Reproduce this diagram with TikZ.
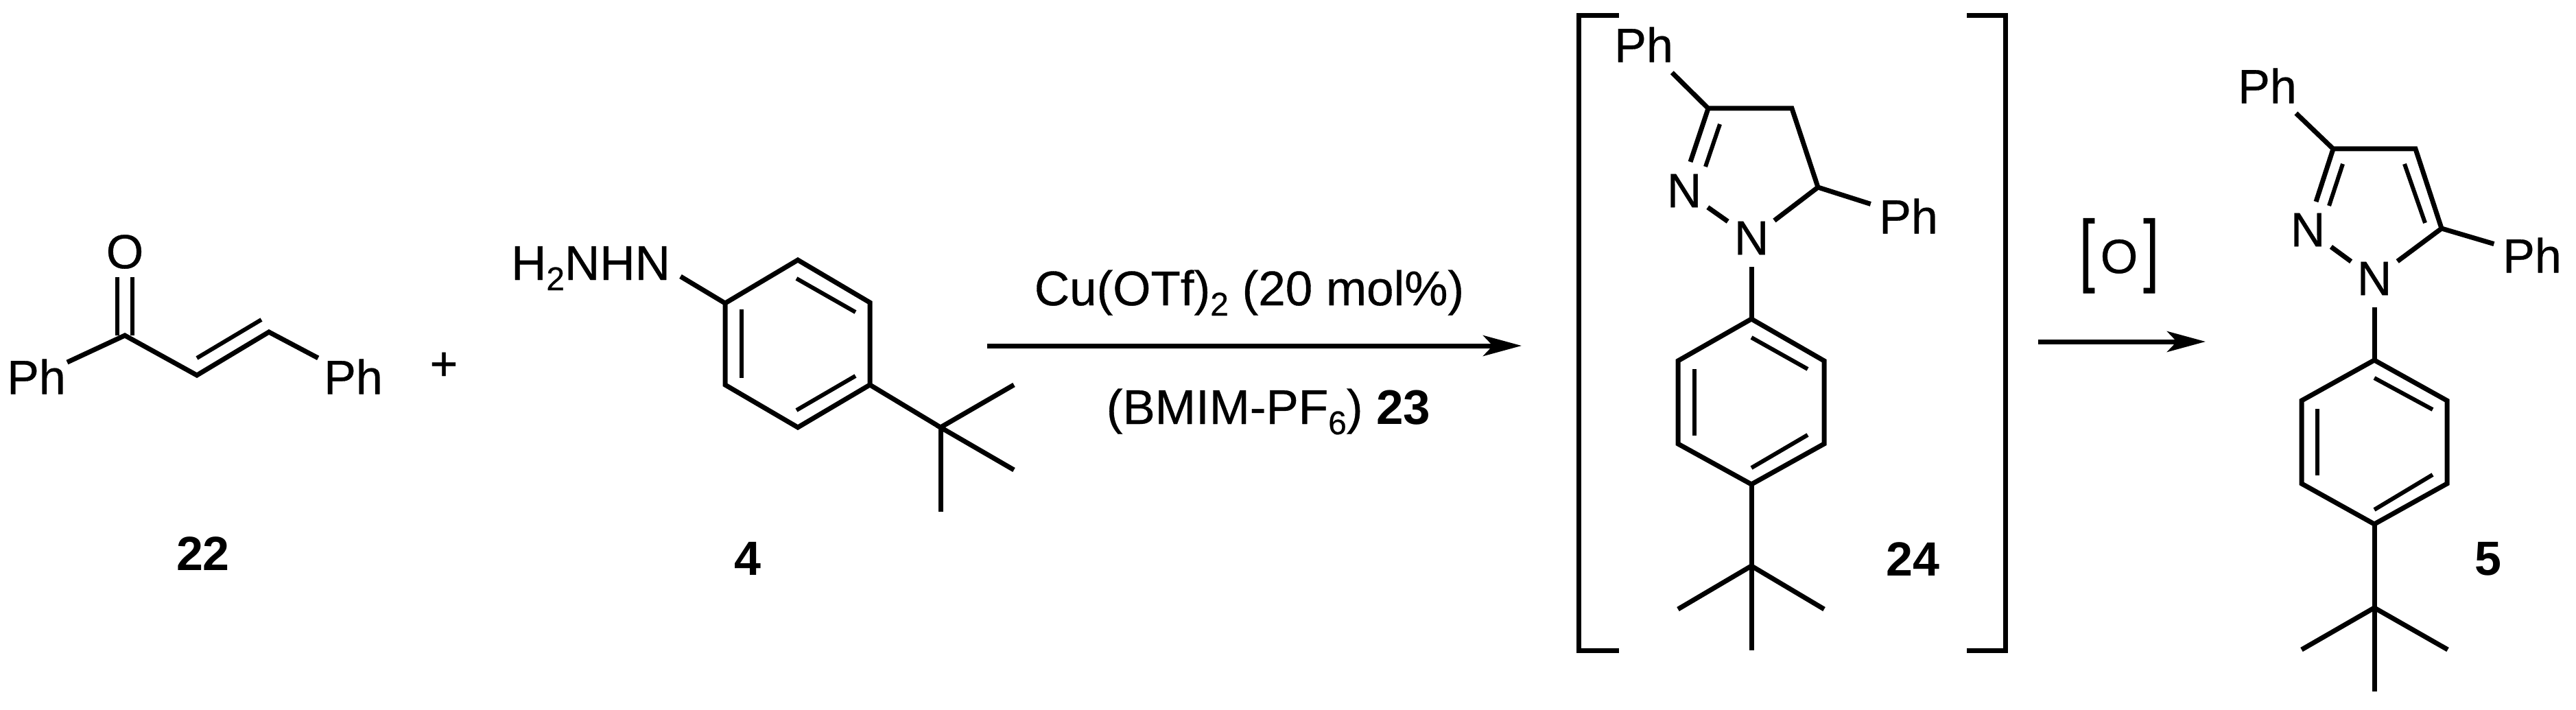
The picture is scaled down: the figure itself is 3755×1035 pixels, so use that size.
\documentclass[tikz,border=0pt]{standalone}
\usepackage{fontspec}
\usepackage{graphicx}
\setmainfont{Liberation Sans}[FakeBold=0.5,BoldFeatures={FakeBold=0}]
\usetikzlibrary{arrows.meta}
\newcommand{\txtsize}{\fontsize{70}{70}\selectfont}
\newcommand{\condsize}{\fontsize{71}{71}\selectfont}
\newcommand{\sbs}[1]{\raisebox{-15pt}{\fontsize{48}{48}\selectfont #1}}
\tikzset{
  bond/.style={line width=7pt,line join=miter,line cap=butt},
  inner/.style={line width=6pt,line cap=butt},
  dbl/.style={line width=6pt,double,double distance=16pt,line cap=butt},
  rxn/.style={line width=7pt,-{Stealth[length=56pt,width=30pt,inset=14pt]}},
  brk/.style={line width=7pt,line join=miter},
  lbl/.style={inner sep=0pt,outer sep=0pt,font=\txtsize},
  txt/.style={lbl,anchor=base,font=\condsize},
  cmpd/.style={lbl,font=\txtsize\bfseries},
  atomN/.style={lbl,circle,minimum size=84pt},
  atomPh/.style={lbl,circle,minimum size=116pt},
  atomPhs/.style={lbl,circle,minimum size=98pt},
  atomO/.style={lbl,circle,minimum size=74pt},
}
\begin{document}
\begin{tikzpicture}[x=1pt,y=-1pt]
\fill[white] (0,0) rectangle (3755,1035);
\useasboundingbox (0,0) rectangle (3755,1035);
% --- compound 22
\foreach \n/\x/\y in {a1/182/489,a2/287/547,a3/392/484,a2i/287/522,a3i/381/466}
  \coordinate (\n) at (\x,\y);
\node[atomO] (aO) at (182,367) {O};
\node[atomPhs] (aPhL) at (53,549) {Ph};
\node[atomPh] (aPhR) at (515,549) {Ph};
\draw[dbl] (a1) -- (aO);
\draw[bond] (aPhL) -- (a1) -- (a2) -- (a3) -- (aPhR);
\draw[inner] (a2i) -- (a3i);
\node[cmpd] (l22) at (296,807) {22};
\node[lbl] (plus) at (647,534) {+};
% --- compound 4
\foreach \n/\x/\y in {b1/1057/442,b2/1163/379,b3/1268/441,b4/1268/561,b5/1163/623,b6/1057/561,
  bh/992/403,bi1a/1081/451,bi1b/1081/551,bi2a/1161/406,bi2b/1247/455,bi3a/1161/598,bi3b/1247/548,
  bt/1371/623,bt1/1478/561,bt2/1478/685,bt3/1371/746}
  \coordinate (\n) at (\x,\y);
\node[txt] (hyd) at (861,408) {H\sbs{2}NHN};
\draw[bond] (b1) -- (b2) -- (b3) -- (b4) -- (b5) -- (b6) -- cycle;
\draw[bond] (bh) -- (b1);
\draw[inner] (bi1a) -- (bi1b);
\draw[inner] (bi2a) -- (bi2b);
\draw[inner] (bi3a) -- (bi3b);
\draw[bond] (b4) -- (bt);
\draw[bond] (bt1) -- (bt) -- (bt2);
\draw[bond] (bt) -- (bt3);
\node[cmpd] (l4) at (1090,814) {4};
% --- first arrow
\coordinate (r1s) at (1439,504);
\coordinate (r1e) at (2218,504);
\draw[rxn] (r1s) -- (r1e);
\node[txt] (cond1) at (1821,445) {Cu(OTf)\sbs{2} (20 mol\%)};
\node[txt] (cond2) at (1849,618) {(BMIM-PF\sbs{6}) \textbf{23}};
% --- brackets
\foreach \n/\x/\y in {k1/2360/23,k2/2301/23,k3/2301/948,k4/2360/948,k5/2867/23,k6/2923/23,k7/2923/948,k8/2867/948}
  \coordinate (\n) at (\x,\y);
\draw[brk] (k1) -- (k2) -- (k3) -- (k4);
\draw[brk] (k5) -- (k6) -- (k7) -- (k8);
% --- compound 24
\foreach \n/\x/\y in {c3/2490/158,c4/2612/158,c5/2650/273,cNe/2464/236,cIa/2507/181,cIb/2486/243,
  d1/2553/465,d2/2659/526,d3/2659/647,d4/2553/706,d5/2446/647,d6/2446/526,
  di1a/2553/492,di1b/2635/538,di2a/2470/538,di2b/2470/635,di3a/2553/682,di3b/2635/634,
  dt/2553/825,dt1/2446/888,dt2/2659/888,dt3/2553/948}
  \coordinate (\n) at (\x,\y);
\node[atomPh] (cPhT) at (2396,65) {Ph};
\node[atomPh] (cPhR) at (2782,315) {Ph};
\node[atomN] (cN2) at (2455,278) {N};
\node[atomN] (cN1) at (2553,347) {N};
\draw[bond] (cPhT) -- (c3) -- (c4) -- (c5) -- (cPhR);
\draw[bond] (c3) -- (cNe);
\draw[inner] (cIa) -- (cIb);
\draw[bond] (cN2) -- (cN1);
\draw[bond] (cN1) -- (c5);
\draw[bond] (cN1) -- (d1);
\draw[bond] (d1) -- (d2) -- (d3) -- (d4) -- (d5) -- (d6) -- cycle;
\draw[inner] (di1a) -- (di1b);
\draw[inner] (di2a) -- (di2b);
\draw[inner] (di3a) -- (di3b);
\draw[bond] (d4) -- (dt);
\draw[bond] (dt1) -- (dt) -- (dt2);
\draw[bond] (dt) -- (dt3);
\node[cmpd] (l24) at (2788,815) {24};
% --- second arrow
\coordinate (r2s) at (2971,498);
\coordinate (r2e) at (3215,498);
\draw[rxn] (r2s) -- (r2e);
\node[txt] (ox) at (3089,403) {\fontsize{117}{117}\selectfont \scalebox{0.7}[1]{[}\hspace{8pt}\raisebox{5pt}{\txtsize O}\hspace{8pt}\scalebox{0.7}[1]{]}};
% --- compound 5
\foreach \n/\x/\y in {e3/3401/217,e4/3521/217,e5/3559/333,eNe/3376/294,eIa/3415/239,eIb/3395/300,eJa/3505/239,eJb/3535/325,
  f1/3461/525,f2/3567/584,f3/3567/705,f4/3461/764,f5/3355/705,f6/3355/584,
  fi1a/3461/551,fi1b/3546/597,fi2a/3378/596,fi2b/3378/693,fi3a/3461/743,fi3b/3546/692,
  ft/3461/886,ft1/3355/947,ft2/3568/947,ft3/3461/1008}
  \coordinate (\n) at (\x,\y);
\node[atomPh] (ePhT) at (3305,125) {Ph};
\node[atomPh] (ePhR) at (3691,372) {Ph};
\node[atomN] (eN2) at (3364,335) {N};
\node[atomN] (eN1) at (3461,406) {N};
\draw[bond] (ePhT) -- (e3) -- (e4) -- (e5) -- (ePhR);
\draw[bond] (e3) -- (eNe);
\draw[inner] (eIa) -- (eIb);
\draw[inner] (eJa) -- (eJb);
\draw[bond] (eN2) -- (eN1);
\draw[bond] (eN1) -- (e5);
\draw[bond] (eN1) -- (f1);
\draw[bond] (f1) -- (f2) -- (f3) -- (f4) -- (f5) -- (f6) -- cycle;
\draw[inner] (fi1a) -- (fi1b);
\draw[inner] (fi2a) -- (fi2b);
\draw[inner] (fi3a) -- (fi3b);
\draw[bond] (f4) -- (ft);
\draw[bond] (ft1) -- (ft) -- (ft2);
\draw[bond] (ft) -- (ft3);
\node[cmpd] (l5) at (3627,815) {5};
\end{tikzpicture}
\end{document}
